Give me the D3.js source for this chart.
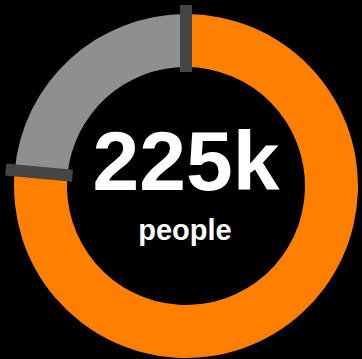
<!DOCTYPE html>
<html>
<head>
<meta charset="utf-8">
<script src="https://cdn.jsdelivr.net/npm/d3@7"></script>
<style>
  html, body { margin: 0; padding: 0; background: #000; }
  svg { display: block; }
</style>
</head>
<body>
<script>
var categories = ["other", "people"];
var values = [172, 53];
var colors = ["#ff7f00", "#8f8f8f"];
var totalLabel = "225k";
var unitLabel = "people";

var width = 362, height = 359;
var cx = 186, cy = 186;
var outerR = 172, innerR = 119;

var svg = d3.select("body").append("svg")
    .attr("width", width)
    .attr("height", height);

var g = svg.append("g").attr("transform", "translate(" + cx + "," + cy + ")");

var pie = d3.pie().sort(null).value(function (d) { return d; });
var arcs = pie(values);

var arc = d3.arc().innerRadius(innerR).outerRadius(outerR);

g.selectAll("path.slice")
    .data(arcs)
    .enter().append("path")
    .attr("class", "slice")
    .attr("d", arc)
    .attr("fill", function (d, i) { return colors[i]; });

// dark tick marks at the ends of the gray slice
var gray = arcs[1];
g.selectAll("rect.tick")
    .data([gray.startAngle, gray.endAngle])
    .enter().append("rect")
    .attr("class", "tick")
    .attr("x", -6)
    .attr("y", -(outerR + 9))
    .attr("width", 12)
    .attr("height", outerR + 9 - (innerR - 5))
    .attr("fill", "#454545")
    .attr("transform", function (a) { return "rotate(" + (a * 180 / Math.PI) + ")"; });

svg.append("text")
    .attr("x", cx)
    .attr("y", 190)
    .attr("text-anchor", "middle")
    .attr("fill", "#fff")
    .style("font-family", "Liberation Sans, Arial, sans-serif")
    .style("font-weight", "bold")
    .style("font-size", "84px")
    .text(totalLabel);

svg.append("text")
    .attr("x", cx - 1)
    .attr("y", 240)
    .attr("text-anchor", "middle")
    .attr("fill", "#fff")
    .style("font-family", "Liberation Sans, Arial, sans-serif")
    .style("font-weight", "bold")
    .style("font-size", "29px")
    .text(unitLabel);
</script>
</body>
</html>
